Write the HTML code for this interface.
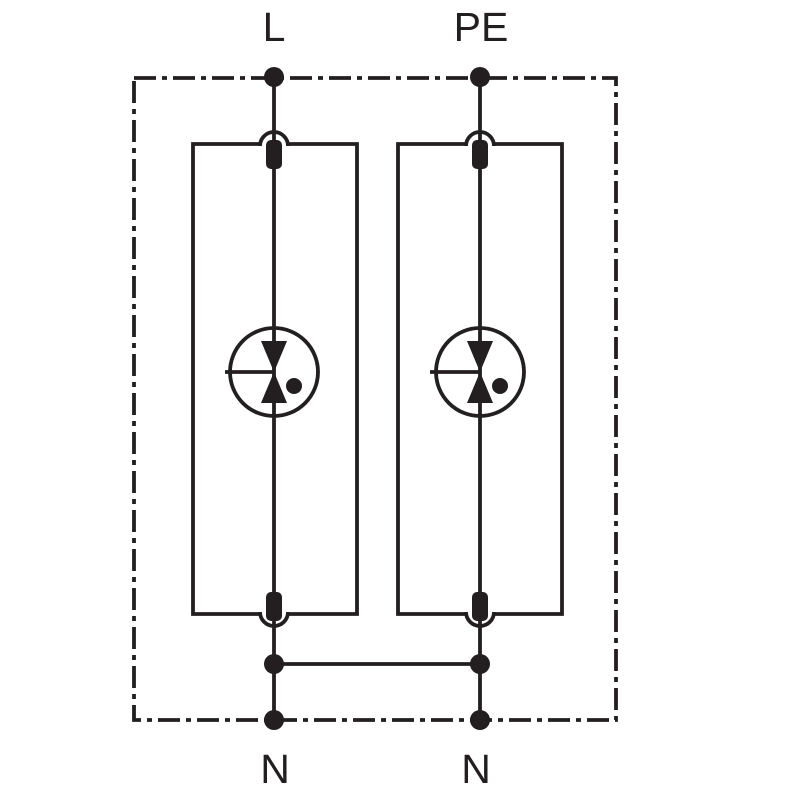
<!DOCTYPE html>
<html><head><meta charset="utf-8"><style>
html,body{margin:0;padding:0;background:#fff;}
svg{display:block;}
text{font-family:"Liberation Sans",sans-serif;font-size:41px;fill:#231f20;}
</style></head><body>
<svg width="800" height="800" viewBox="0 0 800 800" xmlns="http://www.w3.org/2000/svg">
<rect x="134" y="78" width="482" height="642" fill="none" stroke="#231f20" stroke-width="3.8" stroke-dasharray="22 6 5 6"/>
<g stroke="#231f20" stroke-width="3.8" fill="none">
  <path d="M260 144 H193 V614 H260 M288 144 H357 V614 H288"/>
  <path d="M466 144 H398 V614 H466 M494 144 H562 V614 H494"/>
  <path d="M260 146 A14 14 0 0 1 288 146"/>
  <path d="M260 612 A14 14 0 0 0 288 612"/>
  <path d="M466 146 A14 14 0 0 1 494 146"/>
  <path d="M466 612 A14 14 0 0 0 494 612"/>
  <line x1="274" y1="77" x2="274" y2="720"/>
  <line x1="480" y1="77" x2="480" y2="720"/>
  <line x1="274" y1="664" x2="480" y2="664"/>
  <circle cx="274" cy="372" r="44"/>
  <circle cx="480" cy="372" r="44"/>
  <line x1="225" y1="372" x2="274" y2="372"/>
  <line x1="430" y1="372" x2="480" y2="372"/>
</g>
<g fill="#231f20">
  <circle cx="274" cy="77" r="10"/><circle cx="480" cy="77" r="10"/>
  <circle cx="274" cy="664" r="10"/><circle cx="480" cy="664" r="10"/>
  <circle cx="274" cy="720" r="10"/><circle cx="480" cy="720" r="10"/>
  <rect x="266" y="140" width="16" height="29" rx="5"/>
  <rect x="472" y="140" width="16" height="29" rx="5"/>
  <rect x="266" y="592" width="16" height="29" rx="5"/>
  <rect x="472" y="592" width="16" height="29" rx="5"/>
  <polygon points="261,341 287,341 274,372"/>
  <polygon points="261,403 287,403 274,372"/>
  <polygon points="467,341 493,341 480,372"/>
  <polygon points="467,403 493,403 480,372"/>
  <circle cx="294" cy="386" r="8"/>
  <circle cx="500" cy="386" r="8"/>
</g>
<text x="274" y="41" text-anchor="middle">L</text>
<text x="481" y="41" text-anchor="middle">PE</text>
<text x="275" y="783" text-anchor="middle">N</text>
<text x="476" y="783" text-anchor="middle">N</text>
</svg>
</body></html>
